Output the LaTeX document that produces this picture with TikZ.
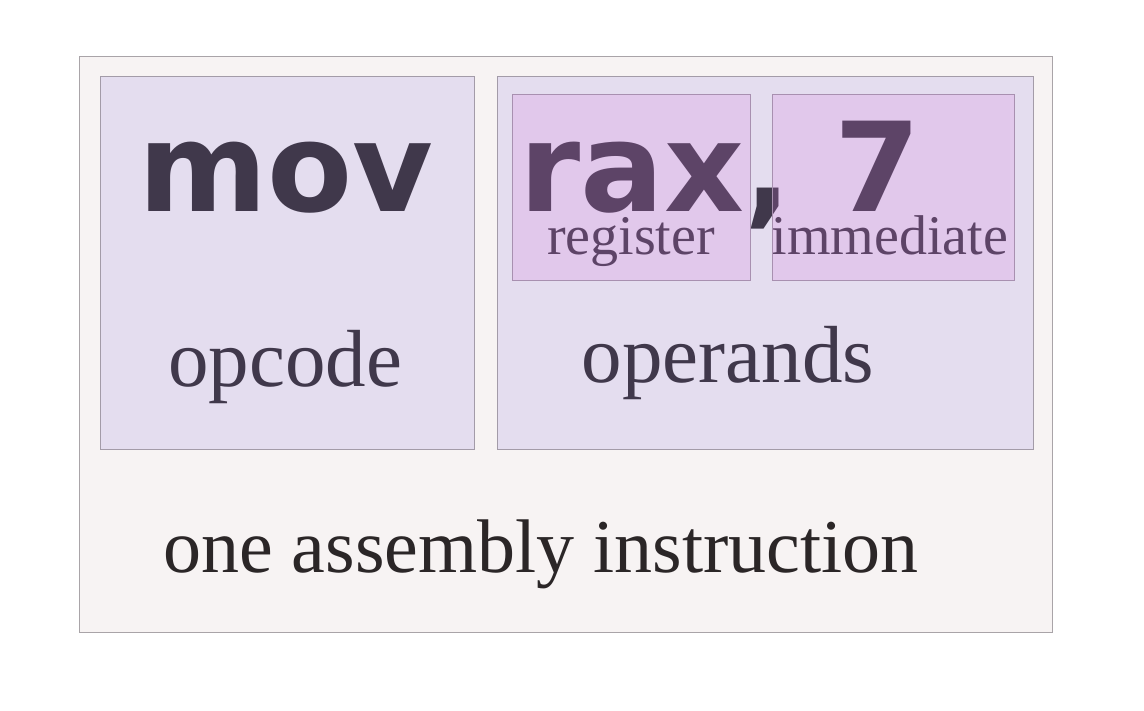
\documentclass[tikz,border=0pt]{standalone}
\usepackage{fontspec}
\setmainfont{Liberation Serif}
\newfontfamily\codefont{DejaVu Sans}
\usepackage{xcolor}
\definecolor{outerfill}{HTML}{F7F3F3}
\definecolor{outerline}{HTML}{A9A4A8}
\definecolor{partfill}{HTML}{E4DDEF}
\definecolor{partline}{HTML}{A39BA8}
\definecolor{subtint}{HTML}{D574DB}
\definecolor{subline}{HTML}{A890B0}
\definecolor{inktext}{HTML}{40384B}
\definecolor{darktext}{HTML}{2B2627}

\tikzset{
  box/.style={draw, rectangle, line width=1pt, inner sep=0pt},
  label text/.style={anchor=base, inner sep=0pt, text=inktext},
}

\begin{document}
\begin{tikzpicture}[x=1pt,y=-1pt]
  \useasboundingbox (0,0) rectangle (1144,711);
  \node[box, fill=outerfill, draw=outerline, minimum width=973pt, minimum height=575pt] (instr) at (565.5,344.5) {};
  \node[box, fill=partfill, draw=partline, minimum width=374pt, minimum height=372pt] (opbox) at (287,263) {};
  \node[box, fill=partfill, draw=partline, minimum width=536pt, minimum height=372pt] (argbox) at (765,263) {};
  \node[label text, font=\codefont\bfseries\fontsize{124}{150}\selectfont] (mov) at (286,212) {mov};
  \node[label text, font=\codefont\bfseries\fontsize{124}{150}\selectfont] (args) at (720,212) {rax, 7};
  \node[label text, font=\fontsize{56}{60}\selectfont] (reg) at (631,255) {register};
  \node[label text, font=\fontsize{56}{60}\selectfont] (imm) at (890,255) {immediate};
  \node[label text, font=\fontsize{81}{90}\selectfont] (opcode) at (285,387) {opcode};
  \node[label text, font=\fontsize{81}{90}\selectfont] (operands) at (728,383) {operands};
  \node[label text, text=darktext, font=\fontsize{76}{84}\selectfont] (whole) at (541,572) {one assembly instruction};
  % tinted boxes laid over the operands
  \node[box, fill=subtint, fill opacity=0.2, draw=subline, minimum width=238pt, minimum height=186pt] (regbox) at (631,188) {};
  \node[box, fill=subtint, fill opacity=0.2, draw=subline, minimum width=242pt, minimum height=186pt] (immbox) at (893,188) {};
\end{tikzpicture}
\end{document}
